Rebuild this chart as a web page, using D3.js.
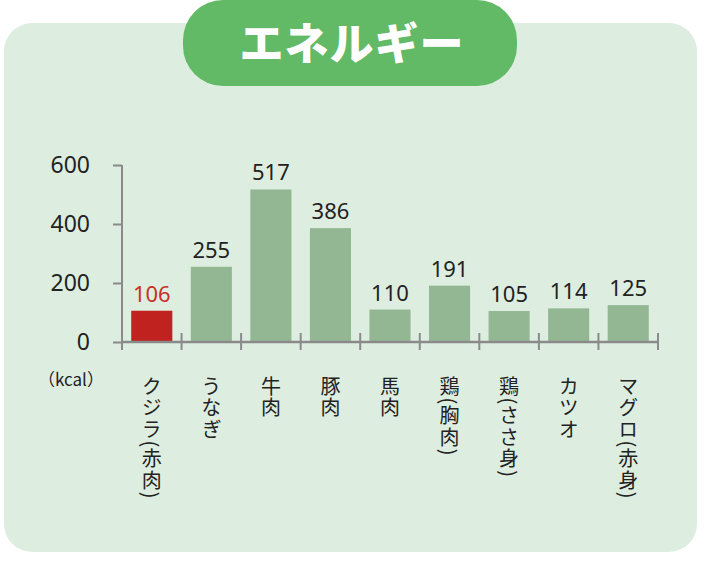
<!DOCTYPE html>
<html>
<head>
<meta charset="utf-8">
<script src="https://cdn.jsdelivr.net/npm/d3@7"></script>
<style>
  body { margin: 0; background: #fff; }
  svg { display: block; font-family: "Noto Sans CJK JP", "Noto Sans", sans-serif; }
</style>
</head>
<body>
<div id="container"></div>
<script>
/* DATA */
const categories = ["クジラ(赤肉)", "うなぎ", "牛肉", "豚肉", "馬肉", "鶏(胸肉)", "鶏(ささ身)", "カツオ", "マグロ(赤身)"];
const energy = [106, 255, 517, 386, 110, 191, 105, 114, 125];
const yTicks = [0, 200, 400, 600];
const title = "エネルギー";
const unit = "（kcal）";

const width = 718;
const height = 562;

const svg = d3.select("#container").append("svg")
  .attr("width", width)
  .attr("height", height);

// panel
svg.append("rect")
  .attr("x", 4).attr("y", 23)
  .attr("width", 693).attr("height", 529)
  .attr("rx", 28)
  .attr("fill", "#ddeee0");

// title pill
svg.append("rect")
  .attr("x", 183).attr("y", 0)
  .attr("width", 334).attr("height", 86)
  .attr("rx", 40)
  .attr("fill", "#62b966");

svg.append("text")
  .attr("x", 352).attr("y", 60)
  .attr("text-anchor", "middle")
  .attr("fill", "#fff")
  .attr("font-size", 44)
  .attr("font-weight", 900)
  .attr("letter-spacing", 1)
  .text(title);

/* SCALES */
const xScale = d3.scaleBand()
  .domain(categories)
  .range([122, 658])
  .paddingInner(0.31)
  .paddingOuter(0.155);

const xSlots = d3.scaleBand()
  .domain(categories)
  .range([122, 658]);

const yScale = d3.scaleLinear()
  .domain([0, 600])
  .range([342, 165]);

const axisColor = "#8a8a8a";
const numFont = "'Noto Sans', sans-serif";

// bars
svg.selectAll("rect.bar")
  .data(categories)
  .join("rect")
  .attr("class", "bar")
  .attr("x", d => xScale(d))
  .attr("y", (d, i) => yScale(energy[i]))
  .attr("width", xScale.bandwidth())
  .attr("height", (d, i) => yScale(0) - yScale(energy[i]))
  .attr("fill", (d, i) => i === 0 ? "#c0221f" : "#93b793");

// value labels
svg.selectAll("text.val")
  .data(categories)
  .join("text")
  .attr("class", "val")
  .attr("x", d => xScale(d) + xScale.bandwidth() / 2)
  .attr("y", (d, i) => yScale(energy[i]) - 9)
  .attr("text-anchor", "middle")
  .attr("font-size", 22)
  .attr("font-family", numFont)
  .attr("fill", (d, i) => i === 0 ? "#c8302a" : "#222")
  .text((d, i) => energy[i]);

// y axis
const yAxis = d3.axisLeft(yScale).tickValues(yTicks).tickSize(9).tickPadding(23);
const gy = svg.append("g")
  .attr("transform", "translate(122,0)")
  .call(yAxis);
gy.select(".domain").remove();
gy.selectAll(".tick line").attr("stroke", axisColor).attr("stroke-width", 2);
gy.selectAll(".tick text")
  .attr("font-size", 23)
  .attr("fill", "#222")
  .attr("font-family", numFont);
svg.append("line")
  .attr("x1", 122).attr("x2", 122)
  .attr("y1", yScale(600)).attr("y2", 350)
  .attr("stroke", axisColor).attr("stroke-width", 2);

// x axis
svg.append("line")
  .attr("x1", 122).attr("x2", 658)
  .attr("y1", yScale(0)).attr("y2", yScale(0))
  .attr("stroke", axisColor).attr("stroke-width", 2.5);

const boundaries = categories.map(d => xSlots(d)).concat([xSlots.range()[1]]).slice(1);
svg.selectAll("line.xtick")
  .data(boundaries)
  .join("line")
  .attr("class", "xtick")
  .attr("x1", d => d).attr("x2", d => d)
  .attr("y1", yScale(0) - 9).attr("y2", yScale(0) + 8)
  .attr("stroke", axisColor).attr("stroke-width", 2);

// category labels (vertical)
svg.selectAll("text.cat")
  .data(categories)
  .join("text")
  .attr("class", "cat")
  .attr("x", d => xScale(d) + xScale.bandwidth() / 2)
  .attr("y", 376)
  .attr("font-size", 20)
  .attr("letter-spacing", 1.5)
  .attr("fill", "#222")
  .style("writing-mode", "vertical-rl")
  .text(d => d);

// unit
svg.append("text")
  .attr("x", 38).attr("y", 386)
  .attr("font-size", 17)
  .attr("fill", "#222")
  .text(unit);
</script>
</body>
</html>
